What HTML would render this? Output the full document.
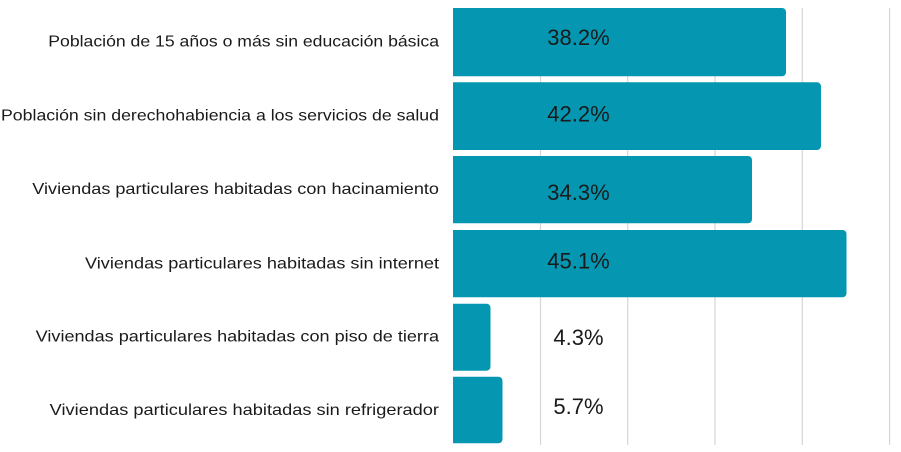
<!DOCTYPE html>
<html>
<head>
<meta charset="utf-8">
<style>
  html,body{margin:0;padding:0;background:#fff;}
  svg{display:block;}
  .lbl{font-family:"Liberation Sans",sans-serif;font-size:16px;fill:#1a1a1a;}
  .val{font-family:"Liberation Sans",sans-serif;font-size:22px;fill:#1a1a1a;}
</style>
</head>
<body>
<svg width="901" height="452" viewBox="0 0 901 452" xmlns="http://www.w3.org/2000/svg">
  <!-- gridlines -->
  <g stroke="#d6d6d6" stroke-width="1.2">
    <line x1="540.5" y1="8" x2="540.5" y2="445"/>
    <line x1="627.7" y1="8" x2="627.7" y2="445"/>
    <line x1="715" y1="8" x2="715" y2="445"/>
    <line x1="802.3" y1="8" x2="802.3" y2="445"/>
    <line x1="889.6" y1="8" x2="889.6" y2="445"/>
  </g>
  <!-- bars -->
  <g fill="#0597b2">
    <path d="M453 8 H782 a4 4 0 0 1 4 4 V72.3 a4 4 0 0 1 -4 4 H453 Z"/>
    <path d="M453 82.3 H817 a4 4 0 0 1 4 4 V146 a4 4 0 0 1 -4 4 H453 Z"/>
    <path d="M453 156 H748 a4 4 0 0 1 4 4 V219.3 a4 4 0 0 1 -4 4 H453 Z"/>
    <path d="M453 230 H842.5 a4 4 0 0 1 4 4 V293.3 a4 4 0 0 1 -4 4 H453 Z"/>
    <path d="M453 303.7 H486.5 a4 4 0 0 1 4 4 V366.7 a4 4 0 0 1 -4 4 H453 Z"/>
    <path d="M453 376.7 H498.5 a4 4 0 0 1 4 4 V439.3 a4 4 0 0 1 -4 4 H453 Z"/>
  </g>
  <!-- category labels -->
  <g class="lbl" text-anchor="end">
    <text x="439" y="46.7" textLength="390.7" lengthAdjust="spacingAndGlyphs">Población de 15 años o más sin educación básica</text>
    <text x="439" y="120.3" textLength="438" lengthAdjust="spacingAndGlyphs">Población sin derechohabiencia a los servicios de salud</text>
    <text x="439" y="194" textLength="406.7" lengthAdjust="spacingAndGlyphs">Viviendas particulares habitadas con hacinamiento</text>
    <text x="439" y="268.3" textLength="354" lengthAdjust="spacingAndGlyphs">Viviendas particulares habitadas sin internet</text>
    <text x="439" y="341.7" textLength="403.3" lengthAdjust="spacingAndGlyphs">Viviendas particulares habitadas con piso de tierra</text>
    <text x="439" y="415" textLength="389.3" lengthAdjust="spacingAndGlyphs">Viviendas particulares habitadas sin refrigerador</text>
  </g>
  <!-- value labels -->
  <g class="val" text-anchor="middle">
    <text x="578.5" y="45">38.2%</text>
    <text x="578.5" y="121.7">42.2%</text>
    <text x="578.5" y="200">34.3%</text>
    <text x="578.5" y="268.3">45.1%</text>
    <text x="578.5" y="345">4.3%</text>
    <text x="578.5" y="414">5.7%</text>
  </g>
</svg>
</body>
</html>
